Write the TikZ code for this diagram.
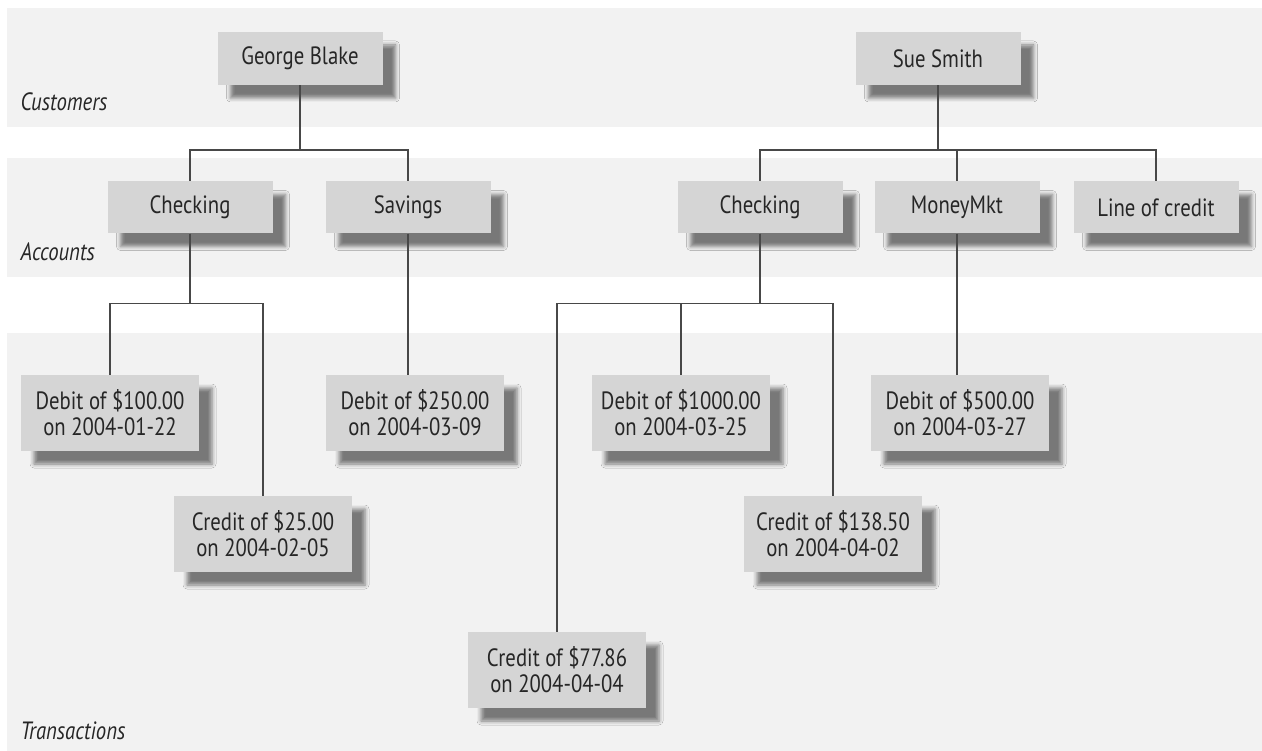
\documentclass[tikz,border=0pt]{standalone}
\usepackage{fontspec}
\setmainfont{PT Sans}[FakeStretch=0.83]
\usepackage{tikz}
\usetikzlibrary{shadows.blur}
\definecolor{bandgray}{HTML}{F2F2F2}
\definecolor{boxgray}{HTML}{D5D5D5}
\definecolor{ink}{HTML}{262626}
\definecolor{wire}{HTML}{484848}

\begin{document}
\begin{tikzpicture}[x=1pt, y=-1pt,
    entity/.style={fill=boxgray, text=ink, minimum width=165pt, minimum height=52pt, inner sep=0pt, align=center,
        font=\fontsize{25}{26}\selectfont,
        blur shadow={shadow xshift=13pt, shadow yshift=-13pt, shadow blur radius=4pt, shadow opacity=50}},
    txn/.style={entity, minimum width=178pt, minimum height=76pt},
    level/.style={anchor=west, text=ink, font=\fontsize{25}{26}\selectfont\itshape},
    link/.style={draw=wire, line width=1.4pt}]
                \fill[white] (0,0) rectangle (1262,751);
                \useasboundingbox (0,0) rectangle (1262,751);
                \fill[bandgray] (7,8) rectangle (1262,127);
                \fill[bandgray] (7,158) rectangle (1262,277);
                \fill[bandgray] (7,333) rectangle (1262,751);

                \node[level] (custlbl) at (17,102) {Customers};
                \node[level] (acctlbl) at (17,252) {Accounts};
                \node[level] (txnlbl) at (17,731) {Transactions};

                % customers
                \node[entity, minimum height=53pt] (george) at (300,58.5) {George Blake};
                \node[entity, minimum height=53pt] (sue) at (938,58.5) {Sue Smith};

                % accounts
                \node[entity] (chkA) at (190,207.5) {Checking};
                \node[entity] (sav) at (408,207.5) {Savings};
                \node[entity] (chkB) at (760,207.5) {Checking};
                \node[entity] (mmkt) at (957,207.5) {MoneyMkt};
                \node[entity] (loc) at (1156,207.5) {Line of credit};

                % transactions
                \node[txn] (deb100) at (110,413) {Debit of \$100.00\\on 2004-01-22};
                \node[txn] (cre25) at (263,534) {Credit of \$25.00\\on 2004-02-05};
                \node[txn] (deb250) at (415,413) {Debit of \$250.00\\on 2004-03-09};
                \node[txn] (cre77) at (557,670) {Credit of \$77.86\\on 2004-04-04};
                \node[txn] (deb1000) at (681,413) {Debit of \$1000.00\\on 2004-03-25};
                \node[txn] (cre138) at (833,534) {Credit of \$138.50\\on 2004-04-02};
                \node[txn] (deb500) at (960,413) {Debit of \$500.00\\on 2004-03-27};

                \draw[link] (george.south) -- ++(0,65) -| (chkA.north);
                \draw[link] (george.south) -- ++(0,65) -| (sav.north);
                \draw[link] (sue.south) -- ++(0,65) -| (chkB.north);
                \draw[link] (sue.south) -- ++(0,65) -| (mmkt.north);
                \draw[link] (sue.south) -- ++(0,65) -| (loc.north);

                \draw[link] (chkA.south) -- ++(0,70) -| (deb100.north);
                \draw[link] (chkA.south) -- ++(0,70) -| (cre25.north);
                \draw[link] (sav.south) -- (sav.south |- deb250.north);
                \draw[link] (chkB.south) -- ++(0,70) -| (cre77.north);
                \draw[link] (chkB.south) -- ++(0,70) -| (deb1000.north);
                \draw[link] (chkB.south) -- ++(0,70) -| (cre138.north);
                \draw[link] (mmkt.south) -- (mmkt.south |- deb500.north);
            \end{tikzpicture}
\end{document}
